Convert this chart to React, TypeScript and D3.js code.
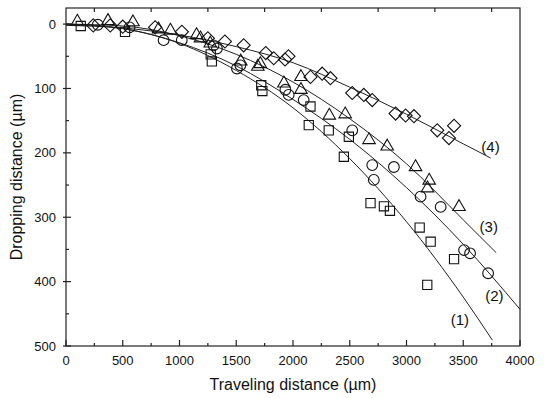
import React from 'react';
import * as d3 from 'd3';

// fitted curves (x in um, y in um)
const curve1X = [0, 500, 1000, 1500, 2000, 2500, 3000, 3500, 3757];
const curve1Y = [0, 7, 30, 72, 130, 209, 307, 424, 491];
const curve2X = [0, 500, 1000, 1500, 2000, 2500, 3000, 3500, 4000];
const curve2Y = [0, 7, 29, 65, 117, 179, 254, 342, 443];
const curve3X = [0, 500, 1000, 1500, 2000, 2500, 3000, 3500, 3790];
const curve3Y = [0, 3, 18, 47, 90, 147, 217, 304, 355];
const curve4X = [0, 500, 1000, 1500, 2000, 2500, 3000, 3500, 3742];
const curve4Y = [2, 6, 17, 35, 60, 98, 140, 186, 208];

// measured points
const squareX = [130, 520, 1275, 1285, 1720, 1730, 2139, 2154, 2315, 2448, 2492, 2683, 2801, 2854, 3116, 3183, 3213, 3419];
const squareY = [3, 12, 47, 58, 95, 104, 157, 128, 165, 206, 175, 278, 283, 290, 316, 405, 338, 365];
const circleX = [280, 560, 860, 1020, 1300, 1330, 1506, 1536, 1933, 1962, 2094, 2522, 2698, 2712, 2889, 3124, 3301, 3507, 3560, 3719];
const circleY = [1, 5, 25, 25, 33, 38, 69, 64, 102, 110, 118, 165, 219, 242, 222, 268, 284, 351, 356, 387];
const triangleX = [100, 370, 590, 815, 920, 1150, 1185, 1271, 1540, 1690, 1712, 1920, 2070, 2070, 2320, 2460, 2670, 2830, 3080, 3185, 3200, 3463];
const triangleY = [-4, -5, -3, 8, 10, 17, 22, 30, 58, 66, 62, 92, 82, 102, 142, 140, 180, 190, 222, 255, 243, 284];
const diamondX = [240, 390, 500, 785, 1021, 1250, 1400, 1565, 1760, 1830, 1930, 1960, 2154, 2257, 2330, 2522, 2624, 2698, 2904, 2992, 3066, 3271, 3374, 3419];
const diamondY = [2, 2, 4, 5, 12, 22, 27, 33, 45, 53, 55, 50, 82, 77, 84, 107, 110, 118, 139, 142, 143, 165, 177, 158];

const curveLabels = ['(1)', '(2)', '(3)', '(4)'];
const labelX = [3470, 3775, 3725, 3740];
const labelY = [460, 422, 315, 190];

const xTicks = [0, 500, 1000, 1500, 2000, 2500, 3000, 3500, 4000];
const yTicks = [0, 100, 200, 300, 400, 500];

const W = 550;
const H = 398;
const left = 66, right = 520, top = 8, bottom = 346;

const App = () => {
  const x = d3.scaleLinear().domain([0, 4000]).range([left, right]);
  const y = d3.scaleLinear().domain([-25, 500]).range([top, bottom]);

  const line = d3.line<[number, number]>()
    .x(d => x(d[0]))
    .y(d => y(d[1]))
    .curve(d3.curveMonotoneX);

  const curves = [
    d3.zip(curve1X, curve1Y),
    d3.zip(curve2X, curve2Y),
    d3.zip(curve3X, curve3Y),
    d3.zip(curve4X, curve4Y),
  ] as [number, number][][];

  const sq = d3.symbol().type(d3.symbolSquare).size(85)();
  const ci = d3.symbol().type(d3.symbolCircle).size(90)();
  const tri = d3.symbol().type(d3.symbolTriangle).size(68)();
  const dia = d3.symbol().type(d3.symbolSquare).size(86)();

  const minorX = d3.range(250, 4000, 500);
  const minorY = d3.range(50, 500, 100);
  const font = 'Arial, "Liberation Sans", Helvetica, sans-serif';

  const markers = (xs: number[], ys: number[], path: string | null, rot: number) =>
    xs.map((v, i) => (
      <path key={i} d={path || ''}
        transform={`translate(${x(v)},${y(ys[i])}) rotate(${rot})`}
        fill="none" stroke="#111" strokeWidth={1.1} />
    ));

  return (
    <svg width={W} height={H} style={{ position: 'absolute', left: 0, top: 0, background: '#fff' }}
      fontFamily={font}>
      <rect width={W} height={H} fill="#fff" />
      {/* frame */}
      <rect x={left} y={top} width={right - left} height={bottom - top}
        fill="none" stroke="#222" strokeWidth={1.2} />
      {/* bottom ticks */}
      {xTicks.map(t => (
        <g key={'xt' + t}>
          <line x1={x(t)} x2={x(t)} y1={bottom} y2={bottom - 6} stroke="#222" strokeWidth={1.2} />
          <text x={x(t)} y={365} textAnchor="middle" fontSize={13} fill="#111">{t}</text>
        </g>
      ))}
      {minorX.map(t => (
        <g key={'xm' + t}>
          <line x1={x(t)} x2={x(t)} y1={bottom} y2={bottom - 3} stroke="#222" strokeWidth={1.2} />
          <line x1={x(t)} x2={x(t)} y1={top} y2={top + 4} stroke="#222" strokeWidth={1.2} />
        </g>
      ))}
      {/* left ticks */}
      {yTicks.map(t => (
        <g key={'yt' + t}>
          <line x1={left - 3} x2={left + 5} y1={y(t)} y2={y(t)} stroke="#222" strokeWidth={1.2} />
          <text x={56} y={y(t)} dy="0.35em" textAnchor="end" fontSize={13} fill="#111">{t}</text>
        </g>
      ))}
      {minorY.map(t => (
        <line key={'ym' + t} x1={left} x2={left + 3} y1={y(t)} y2={y(t)} stroke="#222" strokeWidth={1.2} />
      ))}
      {/* fitted curves */}
      {curves.map((c, i) => (
        <path key={'c' + i} d={line(c) || ''} fill="none" stroke="#222" strokeWidth={1} />
      ))}
      {markers(squareX, squareY, sq, 0)}
      {markers(circleX, circleY, ci, 0)}
      {markers(triangleX, triangleY, tri, 0)}
      {markers(diamondX, diamondY, dia, 45)}
      {curveLabels.map((l, i) => (
        <text key={l} x={x(labelX[i])} y={y(labelY[i])} dy="0.35em" textAnchor="middle"
          fontSize={15} fill="#111">{l}</text>
      ))}
      <text x={(left + right) / 2} y={390} textAnchor="middle" fontSize={16} fill="#111">
        Traveling distance (µm)
      </text>
      <text transform={`translate(22,${(top + bottom) / 2}) rotate(-90)`} textAnchor="middle"
        fontSize={16} fill="#111">
        Dropping distance (µm)
      </text>
    </svg>
  );
};

export default App;
